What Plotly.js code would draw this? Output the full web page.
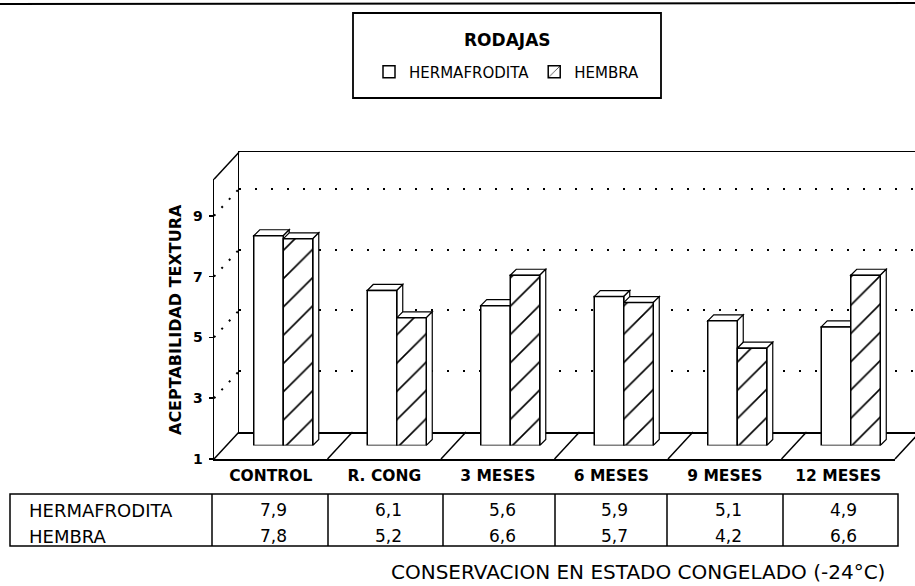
<!DOCTYPE html>
<html>
<head>
<meta charset="utf-8">
<script src="https://cdn.plot.ly/plotly-3.0.1.min.js"></script>
<style>
  html, body { margin: 0; padding: 0; background: #fff; }
  #chart { width: 915px; height: 586px; }
</style>
</head>
<body>
<div id="chart"></div>
<script>
// Aceptabilidad de textura (rodajas) durante la conservacion en congelado

const categorias = ['CONTROL', 'R. CONG', '3 MESES', '6 MESES', '9 MESES', '12 MESES'];
const hermafrodita = [7.9, 6.1, 5.6, 5.9, 5.1, 4.9];
const hembra = [7.8, 5.2, 6.6, 5.7, 4.2, 6.6];
const serieNombres = ['HERMAFRODITA', 'HEMBRA'];
const yTicks = [1, 3, 5, 7, 9];
const gridVals = [3, 5, 7, 9];

const W = 915, H = 586;
const FONT = 'DejaVu Sans';

// pseudo 3D geometry, in px
const FX = 214, FY = 459;          // front plane: left edge, value 1
const CAT = 113.5, VAL = 30.4;     // px per category, px per unit
const DX = 25, DY = 27;            // floor depth offset
const YMIN = 1, YMAX = 10.2;
const BW = 0.26;                   // bar width in category units
const FACE_X = 6 / CAT, FACE_Y = 6 / VAL;   // bar depth in data units

const nCat = categorias.length;
const idx = categorias.map((c, i) => i);
const plotH = (YMAX - YMIN) * VAL;

const px = v => v / W;
const py = v => 1 - v / H;
function xDom(left) { return [px(left), Math.min(1, px(left + nCat * CAT))]; }
function yDom(bottom) { return [py(bottom), py(bottom - plotH)]; }

// --- traces (bars sit half way into the floor) ---
const barLine = { color: 'black', width: 1.5 };
const traces = [
    // empty traces so the back wall and the front axes get drawn
    { type: 'scatter', x: [], y: [], xaxis: 'x', yaxis: 'y', showlegend: false, hoverinfo: 'skip' },
    { type: 'scatter', x: [], y: [], xaxis: 'x2', yaxis: 'y2', showlegend: false, hoverinfo: 'skip' },
    {
        type: 'bar', name: serieNombres[0],
        x: idx, y: hermafrodita.map(v => v - YMIN), base: YMIN,
        xaxis: 'x3', yaxis: 'y3', width: BW, offset: -BW,
        marker: { color: 'white', line: barLine },
        hoverinfo: 'skip'
    },
    {
        type: 'bar', name: serieNombres[1],
        x: idx, y: hembra.map(v => v - YMIN), base: YMIN,
        xaxis: 'x3', yaxis: 'y3', width: BW, offset: 0,
        marker: {
            color: 'white', line: barLine,
            pattern: { shape: '/', size: 20, solidity: 0.08, fgcolor: 'black', bgcolor: 'white', fillmode: 'replace' }
        },
        hoverinfo: 'skip'
    }
];

// --- shapes ---
const shapes = [];

// top and side faces of each bar
function addFaces(vals, off) {
    vals.forEach((v, i) => {
        const xl = i + off, xr = xl + BW;
        const base = { type: 'path', xref: 'x3', yref: 'y3', layer: 'below',
            fillcolor: 'white', line: { color: 'black', width: 1.2 } };
        shapes.push(Object.assign({
            path: `M${xl},${v}L${xr},${v}L${xr + FACE_X},${v + FACE_Y}L${xl + FACE_X},${v + FACE_Y}Z`
        }, base));
        shapes.push(Object.assign({
            path: `M${xr},${YMIN}L${xr},${v}L${xr + FACE_X},${v + FACE_Y}L${xr + FACE_X},${YMIN + FACE_Y}Z`
        }, base));
    });
}
addFaces(hermafrodita, -BW);
addFaces(hembra, 0);

function paperLine(x0, y0, x1, y1, width, dash) {
    shapes.push({
        type: 'line', xref: 'paper', yref: 'paper', layer: 'below',
        x0: px(x0), y0: py(y0), x1: px(x1), y1: py(y1),
        line: { color: 'black', width: width, dash: dash || 'solid' }
    });
}

// floor dividers + floor ends
for (let k = 0; k <= nCat; k++) {
    const x = FX + k * CAT;
    paperLine(x, FY, x + DX, FY - DY, 1.5);
}
// left wall top edge and dotted grid on the wall
paperLine(FX, FY - plotH, FX + DX, FY - DY - plotH, 1.5);
gridVals.forEach(v => {
    const y = FY - (v - YMIN) * VAL;
    paperLine(FX, y, FX + DX, y - DY, 2, '2px,9px');
});

// page rule at the very top
paperLine(0, 4, W, 3, 2);

// legend frame
shapes.push({ type: 'rect', xref: 'paper', yref: 'paper', layer: 'below',
    x0: px(353), x1: px(661), y0: py(13), y1: py(98),
    line: { color: 'black', width: 1.8 }, fillcolor: 'rgba(0,0,0,0)' });

// data table frame
const colEdges = [10, 212, 328, 443, 555, 667, 783, 898];
const tableTop = 494, tableBottom = 546;
shapes.push({ type: 'rect', xref: 'paper', yref: 'paper', layer: 'below',
    x0: px(colEdges[0]), x1: px(colEdges[colEdges.length - 1]), y0: py(tableTop), y1: py(tableBottom),
    line: { color: 'black', width: 1.5 }, fillcolor: 'rgba(0,0,0,0)' });
colEdges.slice(1, -1).forEach(x => paperLine(x, tableTop, x, tableBottom, 1.5));

// --- annotations ---
const annotations = [];
const rowY = [510, 536];
const fmt = v => v.toFixed(1).replace('.', ',');
[hermafrodita, hembra].forEach((serie, r) => {
    annotations.push({
        xref: 'paper', yref: 'paper', x: px(27), y: py(rowY[r]),
        xanchor: 'left', yanchor: 'middle', showarrow: false,
        text: serieNombres[r], font: { family: FONT, size: 18, color: 'black' }
    });
    serie.forEach((v, i) => {
        annotations.push({
            xref: 'paper', yref: 'paper',
            x: px((colEdges[i + 1] + colEdges[i + 2]) / 2 + 3), y: py(rowY[r]),
            xanchor: 'center', yanchor: 'middle', showarrow: false,
            text: fmt(v), font: { family: FONT, size: 17, color: 'black' }
        });
    });
});

annotations.push({
    xref: 'paper', yref: 'paper', x: px(507), y: py(40),
    xanchor: 'center', yanchor: 'middle', showarrow: false,
    text: 'RODAJAS', font: { family: FONT, size: 17, weight: 'bold', color: 'black' }
});
annotations.push({
    xref: 'paper', yref: 'paper', x: px(175), y: py(320), textangle: -90,
    xanchor: 'center', yanchor: 'middle', showarrow: false,
    text: 'ACEPTABILIDAD TEXTURA', font: { family: FONT, size: 16, weight: 'bold', color: 'black' }
});
annotations.push({
    xref: 'paper', yref: 'paper', x: px(638), y: py(572),
    xanchor: 'center', yanchor: 'middle', showarrow: false,
    text: 'CONSERVACION EN ESTADO CONGELADO (-24°C)', font: { family: FONT, size: 20, color: 'black' }
});

// --- layout: back wall (x,y), front axes (x2,y2), bars (x3,y3) ---
const noAxis = { showgrid: false, zeroline: false, ticks: '', automargin: false, fixedrange: true };

const layout = {
    width: W, height: H,
    margin: { l: 0, r: 0, t: 0, b: 0 },
    paper_bgcolor: 'white',
    plot_bgcolor: 'rgba(0,0,0,0)',
    barmode: 'overlay',
    font: { family: FONT, color: 'black' },
    showlegend: true,
    legend: {
        orientation: 'h', x: px(507), xanchor: 'center', y: py(72), yanchor: 'middle',
        bgcolor: 'rgba(0,0,0,0)', borderwidth: 0,
        font: { family: FONT, size: 15, color: 'black' },
        itemclick: false, itemdoubleclick: false
    },
    xaxis: Object.assign({}, noAxis, {
        domain: [px(FX + DX), 1], range: [-0.5, -0.5 + (W - FX - DX) / CAT], anchor: 'y',
        showline: true, mirror: true, linecolor: 'black', linewidth: 1.5, showticklabels: false
    }),
    yaxis: Object.assign({}, noAxis, {
        domain: yDom(FY - DY), range: [YMIN, YMAX], anchor: 'x',
        showline: true, linecolor: 'black', linewidth: 1.5,
        tickvals: gridVals, showgrid: true, gridcolor: 'black', gridwidth: 2.2, griddash: '2px,14px',
        showticklabels: false
    }),
    xaxis2: Object.assign({}, noAxis, {
        domain: xDom(FX), range: [-0.5, nCat - 0.5], anchor: 'y2',
        showline: true, linecolor: 'black', linewidth: 1.5,
        tickvals: idx, ticktext: categorias, ticklabelstandoff: 2,
        tickfont: { family: FONT, size: 15.5, weight: 'bold', color: 'black' }
    }),
    yaxis2: Object.assign({}, noAxis, {
        domain: yDom(FY), range: [YMIN, YMAX], anchor: 'x2',
        showline: true, linecolor: 'black', linewidth: 1.5,
        tickvals: yTicks, ticks: 'outside', ticklen: 4, tickwidth: 1.5, tickcolor: 'black',
        ticklabelstandoff: 3,
        tickfont: { family: FONT, size: 14, weight: 'bold', color: 'black' }
    }),
    xaxis3: Object.assign({}, noAxis, {
        domain: xDom(FX + DX / 2), range: [-0.5, nCat - 0.5], anchor: 'y3', visible: false
    }),
    yaxis3: Object.assign({}, noAxis, {
        domain: yDom(FY - DY / 2), range: [YMIN, YMAX], anchor: 'x3', visible: false
    }),
    shapes: shapes,
    annotations: annotations
};

Plotly.newPlot('chart', traces, layout, { displayModeBar: false, staticPlot: true });
</script>
</body>
</html>
